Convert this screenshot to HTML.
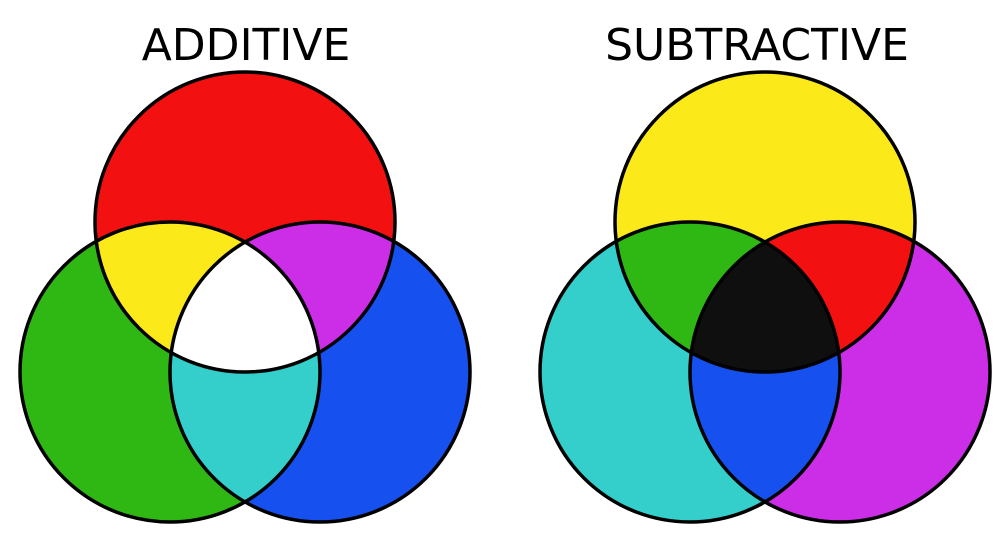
<!DOCTYPE html>
<html><head><meta charset="utf-8"><style>
html,body{margin:0;padding:0;background:#fff;}
svg{display:block;}
</style></head><body>
<svg width="1008" height="551" viewBox="0 0 1008 551" xmlns="http://www.w3.org/2000/svg">
<defs>
<clipPath id="aT"><circle cx="245" cy="222" r="150"/></clipPath>
<clipPath id="aL"><circle cx="170" cy="372" r="150"/></clipPath>
<clipPath id="aR"><circle cx="320" cy="372" r="150"/></clipPath>
<clipPath id="sT"><circle cx="765" cy="222" r="150"/></clipPath>
<clipPath id="sL"><circle cx="690" cy="372" r="150"/></clipPath>
<clipPath id="sR"><circle cx="840" cy="372" r="150"/></clipPath>
</defs>
<rect width="1008" height="551" fill="#fff"/>
<text x="246" y="60" font-family="'DejaVu Sans',sans-serif" font-size="44" text-anchor="middle" fill="#000">ADDITIVE</text>
<text x="757" y="60" font-family="'DejaVu Sans',sans-serif" font-size="44" text-anchor="middle" fill="#000">SUBTRACTIVE</text>

<circle cx="245" cy="222" r="150" fill="#f21010"/>
<circle cx="170" cy="372" r="150" fill="#2fb814"/>
<circle cx="320" cy="372" r="150" fill="#1650ee"/>
<g clip-path="url(#aT)"><circle cx="170" cy="372" r="150" fill="#fbe91a"/><circle cx="320" cy="372" r="150" fill="#cc2ee8"/></g>
<g clip-path="url(#aL)"><circle cx="320" cy="372" r="150" fill="#34cecb"/></g>
<g clip-path="url(#aT)"><g clip-path="url(#aL)"><circle cx="320" cy="372" r="150" fill="#ffffff"/></g></g>
<g fill="none" stroke="#000" stroke-width="3.5">
<circle cx="245" cy="222" r="150"/><circle cx="170" cy="372" r="150"/><circle cx="320" cy="372" r="150"/>
</g>

<circle cx="765" cy="222" r="150" fill="#fbe91a"/>
<circle cx="690" cy="372" r="150" fill="#34cecb"/>
<circle cx="840" cy="372" r="150" fill="#cc2ee8"/>
<g clip-path="url(#sT)"><circle cx="690" cy="372" r="150" fill="#2fb814"/><circle cx="840" cy="372" r="150" fill="#f21010"/></g>
<g clip-path="url(#sL)"><circle cx="840" cy="372" r="150" fill="#1650ee"/></g>
<g clip-path="url(#sT)"><g clip-path="url(#sL)"><circle cx="840" cy="372" r="150" fill="#0e0f0e"/></g></g>
<g fill="none" stroke="#000" stroke-width="3.5">
<circle cx="765" cy="222" r="150"/><circle cx="690" cy="372" r="150"/><circle cx="840" cy="372" r="150"/>
</g>
</svg>
</body></html>
